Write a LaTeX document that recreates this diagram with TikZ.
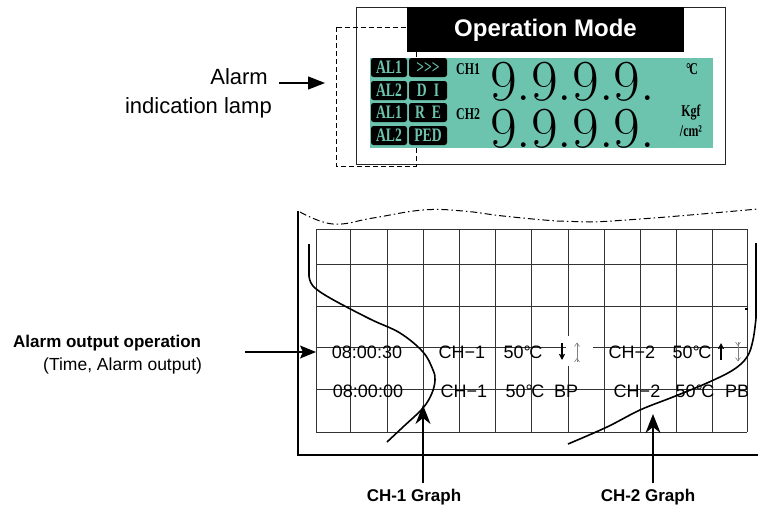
\documentclass[tikz,border=0pt]{standalone}
\usepackage{fontspec}
\usetikzlibrary{arrows.meta}
\newfontfamily\arial{Liberation Sans}
\newfontfamily\tnrc{Liberation Serif}[FakeStretch=0.72]
\definecolor{lcd}{RGB}{109,196,174}
\begin{document}
\begin{tikzpicture}[x=1pt,y=-1pt,
  lamp/.style={fill=black, rounded corners=2.5pt, minimum width=36pt, minimum height=19pt, inner sep=0pt, text=lcd, font=\tnrc\bfseries\fontsize{19}{19}\selectfont},
  lampw/.style={lamp, minimum width=38pt},
  lcdlbl/.style={inner sep=0pt, font=\tnrc\bfseries\fontsize{16.5}{16.5}\selectfont},
  digit/.style={inner sep=0pt, anchor=base west, font=\rmfamily\fontsize{58}{58}\selectfont},
  rowt/.style={inner sep=0pt, anchor=base, font=\arial\fontsize{18}{18}\selectfont},
  gridl/.style={line width=0.8pt, black!80},
  curve/.style={line width=1.6pt, line join=round},
  garrow/.style={line width=1.4pt, -{Stealth[length=19pt,width=15pt,inset=6pt]}},
  blbl/.style={inner sep=0pt, font=\arial\bfseries\fontsize{17}{17}\selectfont},
  grayarr/.style={gray, line width=0.6pt},
  blackarr/.style={line width=1.5pt, -{Stealth[length=6pt,width=6pt,inset=1pt]}}]
\useasboundingbox (0,0) rectangle (758,506);

% ---------- top panel ----------
\draw[line width=1pt, black!85] (356,7) rectangle (725,164);
\draw[line width=0.9pt, dash pattern=on 5pt off 3pt] (336,27) rectangle (416,166);
\fill[black] (407,7) rectangle (684,52);
\node[text=white, font=\arial\bfseries\fontsize{24}{24}\selectfont, inner sep=0pt] (title) at (545.5,30) {Operation Mode};
\fill[lcd] (370,58) rectangle (713,148);

\node[lamp]  (l1) at (389,67.5)  {AL1};
\node[lampw] (r1) at (428,67.5)  {>>>};
\node[lamp]  (l2) at (389,90.5)  {AL2};
\node[lampw] (r2) at (428,90.5)  {D\hspace{7pt}I};
\node[lamp]  (l3) at (389,112.5) {AL1};
\node[lampw] (r3) at (428,112.5) {R\hspace{7pt}E};
\node[lamp]  (l4) at (389,135.5) {AL2};
\node[lampw] (r4) at (428,135.5) {PED};

\node[lcdlbl, anchor=base west] (ch1) at (456,74.5) {CH1};
\node[lcdlbl, anchor=base west] (ch2) at (456,119) {CH2};

\node[digit] (row1) at (490,100) {9.9.9.9.};
\node[digit] (row2) at (490,147) {9.9.9.9.};

\node[lcdlbl] (degc) at (692,69) {°\kern-1.5pt C};
\node[lcdlbl] (kgf) at (691,113) {Kgf};
\node[lcdlbl] (cm2) at (691,131) {/cm²};

% lamp label and arrow
\node[inner sep=0pt, anchor=base east, font=\arial\fontsize{22}{22}\selectfont] (lampA) at (268,84) {Alarm};
\node[inner sep=0pt, anchor=base east, font=\arial\fontsize{22}{22}\selectfont] (lampB) at (272,113) {indication lamp};
\coordinate (lampTail) at (279,83);
\coordinate (lampTip) at (325,83);
\draw[line width=1.3pt, -{Triangle[length=17pt,width=13pt]}] (lampTail) -- (lampTip);

% ---------- bottom panel ----------
\draw[line width=1pt, dash pattern=on 7pt off 3pt on 1.5pt off 3pt]
  plot[smooth, tension=0.7] coordinates {(300,212) (333,224) (373,218) (423,210) (463,211) (503,216) (557,221) (590,222) (640,219) (690,215) (758,209)};

\foreach \x in {316,350,387,423,459,495,531,568,604,640,676,712,747}
  \draw[gridl] (\x,229) -- (\x,432);
\foreach \y in {229,264,306,347,389,432}
  \draw[gridl] (316,\y) -- (747,\y);
\fill[white] (566.3,336) rectangle (593,366);
\fill[black] (745,307.5) rectangle (747.5,310);

\draw[line width=1.3pt] (298,211) -- (298,455) -- (758,455);

% curves
\draw[curve] (309,244) -- plot[smooth, tension=0.6] coordinates {(309,276) (313,286) (330,298) (370,319) (400,333) (423,352) (433,370) (435,380) (432,393) (423,408) (403,427) (387,442)};
\draw[curve] (756,243) -- plot[smooth, tension=0.6] coordinates {(756,318) (753,340) (747,357) (733,370) (707,383) (673,397) (640,410) (607,427) (568,444)};
\coordinate (c1tip) at (423,405);
\coordinate (c2tip) at (653,414);

% row 1
\node[rowt] (r1time) at (367,358) {08:00:30};
\node[rowt] (r1ch)   at (462,358) {CH−1};
\node[rowt] (r1tmp)  at (523,358) {50°\kern-1.5pt C};
\draw[blackarr] (562,343) -- (562,360);
\draw[grayarr] (577,343) -- (577,362);
\draw[grayarr] (574.5,346.5) -- (577,343) -- (579.5,346.5);
\draw[grayarr] (574.5,362) -- (577,358.5) -- (579.5,362);
\node[rowt] (r1ch2)  at (632,358) {CH−2};
\node[rowt] (r1tmp2) at (692,358) {50°\kern-1.5pt C};
\draw[blackarr] (721,360) -- (721,343);
\draw[grayarr] (738,342) -- (738,361);
\draw[grayarr] (735.5,342) -- (738,345.5) -- (740.5,342);
\draw[grayarr] (735.5,357.5) -- (738,361) -- (740.5,357.5);

% row 2
\node[rowt] (r2time) at (368,397) {08:00:00};
\node[rowt] (r2ch)   at (464,397) {CH−1};
\node[rowt] (r2tmp)  at (525,397) {50°\kern-1.5pt C};
\node[rowt] (r2bp)   at (566,397) {BP};
\node[rowt] (r2ch2)  at (637,397) {CH−2};
\node[rowt] (r2tmp2) at (695,397) {50°\kern-1.5pt C};
\node[rowt] (r2pb)   at (737,397) {PB};

% alarm output label
\node[blbl, anchor=base west] (aop) at (13,347) {Alarm output operation};
\node[inner sep=0pt, anchor=base west, font=\arial\fontsize{17.5}{17.5}\selectfont] (aopsub) at (43,370) {(Time, Alarm output)};
\coordinate (aoTail) at (245,352);
\coordinate (aoTip) at (316,352);
\draw[line width=1.3pt, -{Stealth[length=16pt,width=13pt,inset=3pt]}] (aoTail) -- (aoTip);

% graph labels
\node[blbl, anchor=base] (g1) at (414,501) {CH-1 Graph};
\node[blbl, anchor=base] (g2) at (648,501) {CH-2 Graph};
\draw[garrow, shorten <=5pt] (g1.north -| c1tip) -- (c1tip);
\draw[garrow, shorten <=5pt] (g2.north -| c2tip) -- (c2tip);
\end{tikzpicture}
\end{document}
